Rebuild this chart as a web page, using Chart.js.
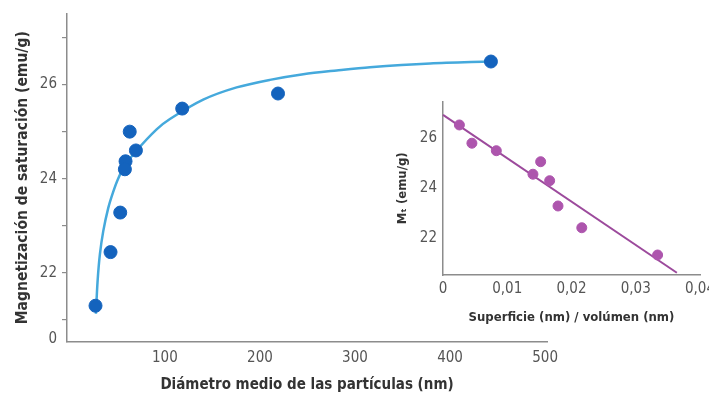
<!DOCTYPE html>
<html>
<head>
<meta charset="utf-8">
<script src="https://cdn.jsdelivr.net/npm/chart.js@4.4.1/dist/chart.umd.min.js"></script>
<style>
  html, body { margin:0; padding:0; background:#fff; }
  body { width:709px; height:398px; overflow:hidden; position:relative; }
  #mainWrap { position:absolute; left:0; top:0; }
  #insetWrap { position:absolute; left:390px; top:85px; }
</style>
</head>
<body>
<div id="mainWrap"><canvas id="main" width="709" height="398"></canvas></div>
<div id="insetWrap"><canvas id="inset" width="350" height="240"></canvas></div>
<script>
// ---------- Main chart data ----------
const diameters = [27, 42.8, 53, 58.6, 57.9, 63, 69.5, 118.2, 219, 443];
const satMagnetization = [21.3, 22.44, 23.28, 24.37, 24.2, 25.0, 24.6, 25.49, 25.81, 26.49];
const fitCurveX = [27.4, 29.2, 31.6, 35.1, 40.3, 45.6, 50.8, 57.9, 70.2, 91.3, 105.3, 140.3, 175.5, 210.5, 245.6, 280.7, 315.8, 379, 442];
const fitCurveY = [21.13, 21.83, 22.39, 22.88, 23.37, 23.72, 24.0, 24.28, 24.60, 25.05, 25.27, 25.68, 25.94, 26.10, 26.22, 26.30, 26.37, 26.45, 26.49];
const mainXTicks = [100, 200, 300, 400, 500];
const mainYTicks = [20.6, 21, 22, 23, 24, 25, 26, 27];
const mainYTickLabels = ['0', '', '22', '', '24', '', '26', ''];

// ---------- Inset data ----------
const surfaceVolume = [0.00255, 0.0045, 0.0083, 0.0152, 0.0140, 0.0166, 0.0179, 0.0216, 0.0334];
const mT = [26.53, 25.8, 25.5, 25.06, 24.56, 24.3, 23.29, 22.42, 21.33];
const insetFitX = [0, 0.0364];
const insetFitY = [26.93, 20.62];
const insetXTicks = [0, 0.01, 0.02, 0.03, 0.04];
const insetXTickLabels = ['0', '0,01', '0,02', '0,03', '0,04'];
const insetYTicks = [22, 24, 26];
const insetYTickLabels = ['22', '24', '26'];

const FAMILY = "'DejaVu Sans', sans-serif";
const F = (size, bold) => ({ family: FAMILY, size: size, weight: bold ? 'bold condensed' : 'condensed' });
const AXIS = '#8c8c8c';
const TICKC = '#555';
const TITLEC = '#333';

const toXY = (xs, ys) => xs.map((x, i) => ({x: x, y: ys[i]}));

new Chart(document.getElementById('main'), {
  type: 'scatter',
  data: {
    datasets: [
      {
        data: toXY(diameters, satMagnetization),
        backgroundColor: '#1463bd',
        borderColor: '#1463bd',
        pointRadius: 6.5,
        pointHoverRadius: 6.5,
        order: 1
      },
      {
        data: toXY(fitCurveX, fitCurveY),
        showLine: true,
        borderColor: '#45a9dc',
        borderWidth: 2.5,
        pointRadius: 0,
        tension: 0.3,
        fill: false,
        order: 2
      }
    ]
  },
  options: {
    responsive: false,
    animation: false,
    clip: false,
    layout: { padding: { left: 14, right: 162, top: 10, bottom: 0 } },
    plugins: { legend: { display: false }, tooltip: { enabled: false } },
    scales: {
      x: {
        type: 'linear',
        min: -3, max: 502,
        afterBuildTicks: s => { s.ticks = mainXTicks.map(v => ({value: v})); },
        afterFit: s => { s.height = 56.5; },
        grid: { display: false, drawTicks: false },
        border: { display: true, color: AXIS, width: 1.5 },
        ticks: { color: TICKC, font: F(15), padding: 8, maxRotation: 0, autoSkip: false },
        title: {
          display: true,
          text: 'Diámetro medio de las partículas (nm)',
          color: TITLEC,
          font: F(15, true),
          padding: { top: 0, bottom: 4 }
        }
      },
      y: {
        type: 'linear',
        min: 20.54, max: 27.5,
        afterBuildTicks: s => { s.ticks = mainYTicks.map(v => ({value: v})); },
        afterFit: s => { s.width = 53; },
        grid: {
          display: true, drawOnChartArea: false, drawTicks: true, tickLength: 5,
          color: c => (c.tick && c.tick.value === 20.6) ? 'rgba(0,0,0,0)' : AXIS,
          lineWidth: 1.2
        },
        border: { display: true, color: AXIS, width: 1.5 },
        ticks: {
          color: TICKC, font: F(15), padding: 5, autoSkip: false,
          callback: (v, i) => mainYTickLabels[i]
        },
        title: {
          display: true,
          text: 'Magnetización de saturación (emu/g)',
          color: TITLEC,
          font: F(15.5, true),
          padding: { top: 0, bottom: 0 }
        }
      }
    }
  }
});

new Chart(document.getElementById('inset'), {
  type: 'scatter',
  data: {
    datasets: [
      {
        data: toXY(surfaceVolume, mT),
        backgroundColor: '#ad55ad',
        borderColor: '#ad55ad',
        pointRadius: 5,
        pointHoverRadius: 5,
        order: 1
      },
      {
        data: toXY(insetFitX, insetFitY),
        showLine: true,
        borderColor: '#9c4a9c',
        borderWidth: 2,
        pointRadius: 0,
        fill: false,
        order: 2
      }
    ]
  },
  options: {
    responsive: false,
    animation: false,
    clip: false,
    layout: { padding: { left: 0, right: 40, top: 16.7, bottom: 0 } },
    plugins: { legend: { display: false }, tooltip: { enabled: false } },
    scales: {
      x: {
        type: 'linear',
        min: 0, max: 0.04,
        afterBuildTicks: s => { s.ticks = insetXTicks.map(v => ({value: v})); },
        afterFit: s => { s.height = 50; },
        grid: { display: false, drawTicks: false },
        border: { display: true, color: AXIS, width: 1.5 },
        ticks: {
          color: TICKC, font: F(15), padding: 5, maxRotation: 0, autoSkip: false,
          callback: (v, i) => insetXTickLabels[i]
        },
        title: {
          display: true,
          text: 'Superficie (nm) / volúmen (nm)',
          color: TITLEC,
          font: F(13, true),
          padding: { top: 4, bottom: 0 }
        }
      },
      y: {
        type: 'linear',
        min: 20.53, max: 27.46,
        afterBuildTicks: s => { s.ticks = insetYTicks.map(v => ({value: v})); },
        afterFit: s => { s.width = 53; },
        grid: { display: false, drawTicks: false },
        border: { display: true, color: AXIS, width: 1.5 },
        ticks: {
          color: TICKC, font: F(15), padding: 6, autoSkip: false,
          callback: (v, i) => insetYTickLabels[i]
        },
        title: {
          display: true,
          text: 'Mₜ (emu/g)',
          color: TITLEC,
          font: F(13, true),
          padding: { top: 5, bottom: 0 }
        }
      }
    }
  }
});
</script>
</body>
</html>
